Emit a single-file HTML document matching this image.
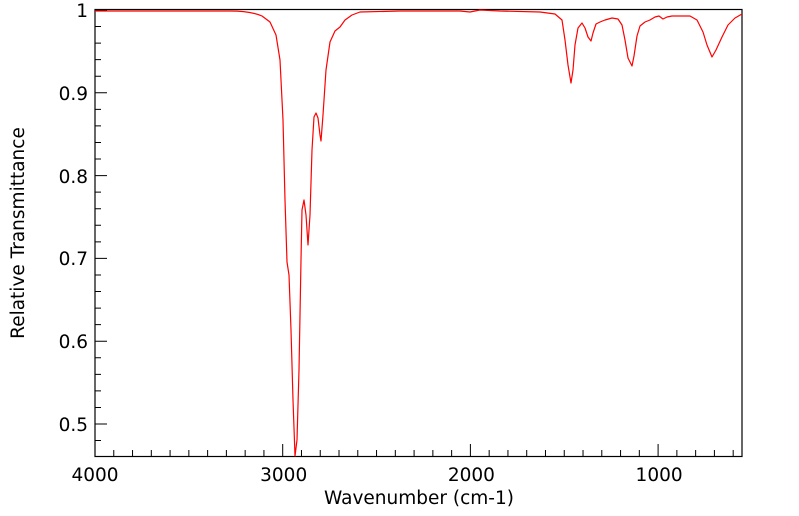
<!DOCTYPE html>
<html><head><style>body{margin:0;background:#fff}svg{display:block;font-family:"DejaVu Sans","Liberation Sans",sans-serif}</style></head><body>
<svg width="799" height="516" viewBox="0 0 799 516">
<rect x="95" y="9.5" width="647" height="447" fill="none" stroke="#000" stroke-width="1.2"/>
<path stroke="#000" stroke-width="1" fill="none" d="
M95,456v-12 M113.77,456v-6 M132.54,456v-6 M151.31,456v-6 M170.08,456v-6 M188.85,456v-6 M207.62,456v-6 M226.39,456v-6 M245.16,456v-6 M263.93,456v-6 M282.7,456v-12 M301.47,456v-6 M320.24,456v-6 M339.01,456v-6 M357.78,456v-6 M376.55,456v-6 M395.32,456v-6 M414.09,456v-6 M432.86,456v-6 M451.63,456v-6 M470.4,456v-12 M489.17,456v-6 M507.94,456v-6 M526.71,456v-6 M545.48,456v-6 M564.25,456v-6 M583.02,456v-6 M601.79,456v-6 M620.56,456v-6 M639.33,456v-6 M658.1,456v-12 M676.87,456v-6 M695.64,456v-6 M714.41,456v-6 M733.18,456v-6
M95,10h12 M95,26.56h6 M95,43.12h6 M95,59.68h6 M95,76.24h6 M95,92.8h12 M95,109.36h6 M95,125.92h6 M95,142.48h6 M95,159.04h6 M95,175.6h12 M95,192.16h6 M95,208.72h6 M95,225.28h6 M95,241.84h6 M95,258.4h12 M95,274.96h6 M95,291.52h6 M95,308.08h6 M95,324.64h6 M95,341.2h12 M95,357.76h6 M95,374.32h6 M95,390.88h6 M95,407.44h6 M95,424h12 M95,440.56h6"/>
<path fill="none" stroke="#f00" stroke-width="1.2" stroke-linejoin="round" d="M95,11 L230,11 C245,11 255,13 262,16 L270,22 L276,35 L280,60 L283,120 L285,200 L287,262 L289,275 L291,330 L293,400 L295,456 L297,440 L299,370 L301,260 L302,210 L304,200 L306,215 L308,245 L310,215 L312,150 L314,117 L316,113 L318,118 L320,135 L321,141 L323,115 L326,70 L330,42 L335,31 L340,27 L345,20 L352,15 L360,12 L400,11 L460,11 L470,12 L480,10 L500,11 L540,12 L555,14 L562,20 L565,40 L568,65 L571,83 L573,70 L575,45 L578,28 L582,23 L585,28 L588,37 L591,41 L593,33 L596,24 L600,22 L605,20 L612,18 L618,19 L622,25 L625,40 L628,58 L632,66 L634,56 L637,36 L640,26 L645,22 L650,20 L655,17 L659,16 L663,19 L667,17 L672,16 L690,16 L697,20 L703,32 L707,45 L712,57 L716,50 L722,37 L728,25 L735,18 L742,14"/>
<g font-size="18.5" fill="#000">
<text x="95" y="481" text-anchor="middle">4000</text>
<text x="283.7" y="481" text-anchor="middle">3000</text>
<text x="471.4" y="481" text-anchor="middle">2000</text>
<text x="659.1" y="481" text-anchor="middle">1000</text>
<text x="88" y="17" text-anchor="end">1</text>
<text x="88" y="100" text-anchor="end">0.9</text>
<text x="88" y="183" text-anchor="end">0.8</text>
<text x="88" y="265" text-anchor="end">0.7</text>
<text x="88" y="348" text-anchor="end">0.6</text>
<text x="88" y="431" text-anchor="end">0.5</text>
<text x="419" y="504" text-anchor="middle">Wavenumber (cm-1)</text>
<text transform="translate(24,233) rotate(-90)" text-anchor="middle">Relative Transmittance</text>
</g>
</svg></body></html>
